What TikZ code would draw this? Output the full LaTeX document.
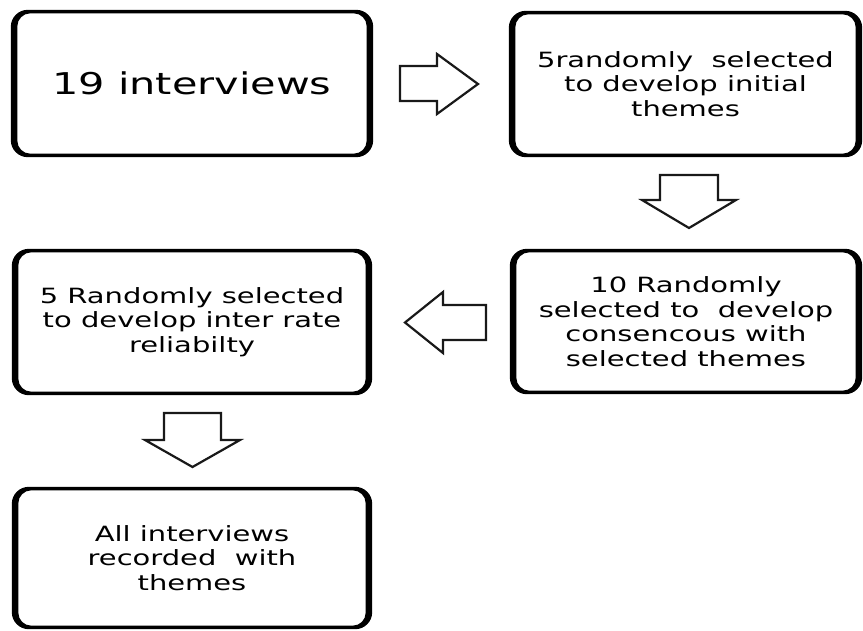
\documentclass[tikz,border=0pt]{standalone}
\usepackage{fontspec}
\setmainfont{DejaVu Sans}[FakeStretch=1.38]
\newcommand\myroundframe[1]{%
  \fill[black, even odd rule, rounded corners=17pt]
    (#1.south west) rectangle (#1.north east)
    [rounded corners=13pt]
    ([xshift=6.5pt,yshift=3.5pt]#1.south west) rectangle ([xshift=-6.5pt,yshift=-3.5pt]#1.north east);}
\begin{document}
\begin{tikzpicture}[x=1pt,y=-1pt,
  box/.style={draw=none, align=center, inner sep=0pt,
    font=\fontsize{21}{24.5}\selectfont},
  blockarrow/.style={draw=black!90, line width=2.2pt, fill=white, line join=miter}]
\useasboundingbox (0,0) rectangle (863,630);
\node[box, minimum width=362pt, minimum height=147pt, font=\fontsize{30}{34}\selectfont] (b1) at (192,83.5) {19 interviews};
\node[box, minimum width=353pt, minimum height=146pt] (b2) at (685.5,84) {5randomly\ \ selected\\to develop initial\\themes};
\node[box, minimum width=352pt, minimum height=145pt] (b3) at (686,321.5) {10 Randomly\\selected to\ \ develop\\consencous with\\selected themes};
\node[box, minimum width=360pt, minimum height=146pt] (b4) at (192,322) {5 Randomly selected\\to develop inter rate\\reliabilty};
\node[box, minimum width=360pt, minimum height=142pt] (b5) at (192,558) {All interviews\\recorded\ \ with\\themes};
\myroundframe{b1}\myroundframe{b2}\myroundframe{b3}\myroundframe{b4}\myroundframe{b5}
% block arrows
\draw[blockarrow] (400,66) -- (437,66) -- (437,54) -- (478,84) -- (437,114) -- (437,101) -- (400,101) -- cycle;
\draw[blockarrow] (660,175) -- (718,175) -- (718,200) -- (736,200) -- (689,228) -- (642,200) -- (660,200) -- cycle;
\draw[blockarrow] (486,305) -- (443,305) -- (443,292) -- (405,322.5) -- (443,353) -- (443,340) -- (486,340) -- cycle;
\draw[blockarrow] (164,413) -- (221,413) -- (221,440) -- (240,440) -- (192.5,467) -- (145,440) -- (164,440) -- cycle;
\end{tikzpicture}
\end{document}
